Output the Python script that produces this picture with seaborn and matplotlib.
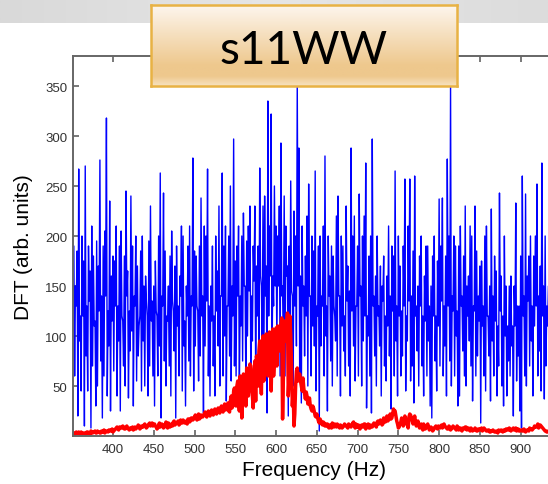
import numpy as np
import pandas as pd
import matplotlib
matplotlib.use("Agg")
import matplotlib.pyplot as plt
import seaborn as sns
from matplotlib.colors import LinearSegmentedColormap

# ---------------- data ----------------
title_text = "s11WW"
x_label = "Frequency (Hz)"
y_label = "DFT (arb. units)"
x_ticks = [400, 450, 500, 550, 600, 650, 700, 750, 800, 850, 900]
y_ticks = [50, 100, 150, 200, 250, 300, 350]

freq = np.arange(352, 935, 1)   # 1 Hz bins, 352..934

# blue DFT, local maxima on even bins 352, 354, ... 934
blue_peaks = [
    190, 150, 185, 267, 120, 200, 175, 270, 130, 190, 165, 210, 180, 115, 195, 170, 276, 140, 190, 205, 318, 125, 235, 160, 180,
    175, 210, 130, 190, 205, 115, 180, 245, 165, 125, 240, 190, 140, 200, 170, 110, 185, 200, 150, 160, 120, 195, 230, 135, 150,
    175, 120, 200, 263, 140, 243, 185, 120, 150, 180, 205, 125, 170, 190, 130, 160, 210, 200, 115, 150, 190, 210, 140, 278, 185,
    180, 125, 190, 238, 140, 210, 200, 267, 130, 150, 190, 120, 200, 165, 230, 140, 263, 190, 210, 130, 200, 250, 150, 297, 175,
    190, 210, 140, 200, 223, 150, 195, 210, 230, 140, 190, 230, 170, 190, 268, 150, 230, 240, 170, 335, 210, 322, 160, 250, 210,
    200, 230, 293, 150, 240, 210, 170, 190, 255, 140, 225, 200, 353, 288, 160, 210, 150, 180, 220, 252, 140, 200, 185, 265, 130,
    190, 200, 140, 210, 280, 130, 200, 160, 190, 180, 120, 220, 240, 140, 200, 190, 120, 230, 170, 145, 288, 200, 220, 130, 190,
    242, 150, 200, 220, 273, 120, 180, 200, 297, 140, 160, 200, 130, 170, 150, 180, 120, 160, 210, 140, 190, 180, 265, 130, 200,
    170, 125, 190, 257, 120, 210, 257, 140, 185, 260, 130, 150, 180, 200, 120, 160, 190, 190, 130, 150, 180, 200, 120, 175, 237,
    190, 238, 130, 180, 277, 200, 352, 140, 200, 190, 125, 190, 210, 140, 180, 230, 150, 160, 210, 200, 130, 230, 185, 140, 170,
    175, 130, 200, 210, 120, 150, 227, 140, 180, 165, 110, 243, 160, 120, 200, 150, 110, 150, 160, 110, 150, 233, 130, 130, 180,
    260, 140, 242, 160, 180, 200, 130, 180, 200, 252, 140, 170, 273, 150, 200, 130, 150,
]

# blue DFT, local minima on odd bins 353, 355, ... 933
blue_troughs = [
    60, 130, 20, 95, 45, 120, 10, 80, 45, 135, 8, 70, 110, 30, 50, 125, 75, 18, 60, 140, 40, 90, 25, 115,
    65, 130, 40, 95, 25, 120, 70, 50, 140, 38, 85, 105, 30, 130, 55, 80, 120, 45, 95, 50, 135, 40, 70, 115, 60,
    30, 125, 60, 90, 18, 130, 75, 50, 115, 70, 40, 135, 85, 18, 110, 60, 140, 45, 90, 30, 120, 75, 60, 130, 45,
    90, 130, 55, 80, 120, 23, 90, 135, 60, 40, 115, 70, 40, 125, 90, 50, 140, 60, 100, 35, 130, 80, 55, 120, 70,
    60, 140, 43, 110, 75, 150, 50, 100, 145, 70, 95, 155, 60, 120, 80, 160, 90, 55, 140, 23, 120, 160, 70, 130, 150,
    90, 150, 60, 140, 110, 60, 160, 20, 110, 145, 50, 130, 90, 150, 60, 33, 130, 80, 120, 50, 140, 60, 110, 90, 45,
    120, 5, 90, 130, 60, 100, 25, 140, 75, 50, 130, 95, 60, 140, 40, 110, 85, 60, 135, 70, 40, 125, 90, 55, 130,
    60, 140, 50, 95, 120, 28, 100, 60, 23, 130, 80, 50, 120, 90, 40, 135, 70, 55, 110, 80, 27, 125, 60, 95, 40,
    120, 60, 80, 130, 45, 95, 135, 55, 70, 33, 120, 85, 50, 130, 70, 40, 115, 60, 95, 30, 18, 120, 75, 45, 110,
    70, 135, 60, 90, 40, 130, 75, 50, 125, 60, 100, 30, 40, 130, 85, 60, 50, 120, 95, 70, 35, 125, 60, 80, 115,
    13, 110, 60, 45, 120, 80, 35, 95, 60, 115, 40, 70, 125, 50, 30, 100, 40, 75, 60, 90, 20, 110, 55, 80, 25,
    8, 120, 60, 50, 135, 70, 95, 40, 110, 130, 60, 85, 45, 120, 37, 70, 110,
]

# red DFT, even bins 352 ... 934
red_even = [
    3, 2, 3, 4, 3, 2, 3, 3, 4, 3, 2, 3, 4, 5, 3, 4, 3, 5, 4, 3, 5, 4, 6, 5, 4,
    6, 8, 7, 9, 8, 10, 7, 9, 8, 6, 7, 9, 8, 7, 9, 10, 8, 9, 11, 10, 9, 12, 10, 13, 12,
    10, 7, 11, 9, 12, 8, 11, 10, 13, 9, 12, 14, 11, 13, 15, 12, 14, 16, 13, 15, 17, 14, 18, 16, 19,
    18, 20, 17, 21, 19, 22, 20, 23, 21, 24, 22, 25, 23, 26, 24, 27, 25, 29, 26, 30, 25, 35, 28, 45, 38,
    50, 35, 60, 18, 62, 45, 68, 40, 72, 55, 28, 75, 80, 50, 95, 42, 100, 70, 102, 60, 104, 45, 107, 75, 108,
    110, 85, 112, 17, 115, 95, 123, 60, 100, 30, 10, 50, 68, 60, 55, 45, 48, 37, 40, 35, 30, 25, 28, 20, 22,
    15, 17, 12, 14, 10, 12, 9, 11, 8, 10, 12, 9, 11, 8, 10, 9, 12, 10, 8, 11, 9, 13, 10, 12, 9,
    8, 10, 9, 12, 7, 10, 8, 11, 9, 13, 10, 14, 12, 16, 11, 18, 14, 20, 16, 22, 18, 27, 25, 15, 8,
    12, 18, 10, 20, 14, 8, 22, 18, 12, 20, 10, 15, 8, 12, 6, 10, 8, 12, 6, 9, 5, 8, 10, 7, 9,
    10, 8, 12, 9, 7, 10, 6, 8, 9, 7, 10, 6, 8, 5, 7, 9, 6, 8, 5, 7, 6, 8, 5, 7, 6,
    8, 6, 7, 5, 6, 4, 5, 6, 4, 5, 3, 5, 6, 4, 5, 7, 6, 8, 5, 7, 6, 8, 7, 5, 6,
    5, 7, 4, 6, 5, 7, 6, 8, 9, 10, 8, 11, 9, 7, 5, 4, 5,
]

# red DFT, odd bins 353 ... 933
red_odd = [
    2, 4, 3, 2, 4, 3, 3, 2, 4, 3, 5, 3, 4, 3, 5, 4, 3, 4, 6, 4, 5, 6, 5, 7,
    5, 7, 9, 6, 9, 8, 9, 7, 10, 7, 8, 8, 6, 9, 8, 11, 7, 10, 9, 12, 8, 11, 13, 11, 10,
    12, 9, 8, 13, 10, 11, 9, 14, 8, 12, 11, 10, 15, 12, 14, 11, 16, 13, 15, 14, 12, 17, 15, 18, 17,
    21, 16, 22, 18, 20, 21, 24, 19, 25, 20, 26, 21, 27, 22, 28, 23, 30, 24, 32, 27, 33, 24, 40, 30, 48,
    30, 55, 25, 48, 40, 58, 30, 65, 48, 70, 40, 60, 35, 72, 85, 62, 88, 55, 95, 80, 65, 98, 85, 60, 100,
    70, 105, 95, 118, 60, 105, 110, 40, 120, 70, 45, 22, 65, 55, 62, 50, 58, 42, 44, 32, 38, 27, 30, 24, 19,
    18, 13, 15, 11, 13, 10, 12, 8, 11, 13, 9, 10, 12, 9, 11, 8, 10, 11, 9, 12, 10, 11, 14, 8, 11,
    11, 7, 11, 9, 12, 9, 12, 8, 10, 11, 12, 9, 15, 13, 14, 12, 16, 18, 15, 19, 17, 22, 24, 20, 12,
    9, 14, 16, 12, 17, 11, 19, 21, 15, 16, 14, 12, 11, 9, 8, 12, 7, 10, 9, 7, 8, 6, 9, 8, 10,
    8, 11, 9, 10, 8, 7, 9, 7, 10, 8, 6, 9, 7, 6, 8, 7, 9, 7, 6, 8, 5, 6, 7, 5, 7,
    7, 5, 8, 6, 5, 6, 4, 5, 5, 4, 4, 6, 5, 5, 6, 5, 7, 6, 7, 6, 8, 6, 5, 7, 5,
    6, 5, 6, 5, 6, 8, 7, 7, 10, 9, 12, 9, 10, 8, 6, 5, 4,
]


def interleave(even, odd):
    out = []
    for i, v in enumerate(even):
        out.append(v)
        if i < len(odd):
            out.append(odd[i])
    return out


dft_blue = interleave(blue_peaks, blue_troughs)
dft_red = interleave(red_even, red_odd)
n = min(len(freq), len(dft_blue), len(dft_red))
df = pd.DataFrame({"freq": freq[:n], "blue": dft_blue[:n], "red": dft_red[:n]})

# ---------------- figure ----------------
sns.set_style("ticks")
plt.rcParams['font.family'] = ['Liberation Sans', 'DejaVu Sans']
plt.rcParams['path.simplify'] = False

W, H = 548, 485
fig = plt.figure(figsize=(W / 100, H / 100), dpi=100)
fig.patch.set_facecolor("white")

# gray band at top
band = fig.add_axes([0, 1 - 24 / H, 1, 24 / H])
band_cmap = LinearSegmentedColormap.from_list("band", ["#d9d9d9", "#e6e6e6", "#dcdcdc"])
band.imshow(np.linspace(0, 1, 200).reshape(1, -1), aspect="auto", cmap=band_cmap,
            extent=[0, 1, 0, 1])
band.axis("off")

# main axes
left, right = 73, 548
top, bottom = 57, 437
ax = fig.add_axes([left / W, 1 - bottom / H, (right - left) / W, (bottom - top) / H])
ax.set_facecolor("white")

sns.lineplot(data=df, x="freq", y="blue", color="#0000ff", linewidth=1.0, ax=ax)
sns.lineplot(data=df, x="freq", y="red", color="#ff0000", linewidth=2.5, ax=ax)

ax.set_xlim(351, 933.5)
ax.set_ylim(0, 380)
ax.set_xticks(x_ticks)
ax.set_yticks(y_ticks)
ax.tick_params(axis="both", direction="in", length=4, width=1.1, color="#555555",
               labelsize=9.5, labelcolor="#333333", top=True, right=False)
ax.tick_params(axis="x", pad=5)
ax.tick_params(axis="y", pad=4)
for side in ["left", "bottom", "top"]:
    ax.spines[side].set_color("#666666")
    ax.spines[side].set_linewidth(1.4)
ax.spines["right"].set_visible(False)

ax.set_xlabel(x_label, fontsize=15, color="black")
ax.set_ylabel(y_label, fontsize=15, color="black")
ax.xaxis.set_label_coords(0.507, -0.062)
ax.yaxis.set_label_coords(-0.085, 0.5)

# title box with gradient
bx0, bx1, by0, by1 = 151, 457, 6, 87
tbox = fig.add_axes([bx0 / W, 1 - by1 / H, (bx1 - bx0) / W, (by1 - by0) / H])
tcmap = LinearSegmentedColormap.from_list(
    "tan", [(0.0, "#fdf6ee"), (0.35, "#f6e0c0"), (0.75, "#eec88d"), (0.88, "#eec88d"), (1.0, "#f7e2bf")])
tbox.imshow(np.linspace(0, 1, 200).reshape(-1, 1), aspect="auto", cmap=tcmap,
            extent=[0, 1, 0, 1])
tbox.set_xticks([])
tbox.set_yticks([])
for s in tbox.spines.values():
    s.set_color("#e8b244")
    s.set_linewidth(1.8)
tbox.text(0.5, 0.28, title_text, transform=tbox.transAxes, ha="center", va="baseline",
          fontsize=33, color="black", family=["Lato", "DejaVu Sans"])

fig.savefig("out.png", dpi=100)
